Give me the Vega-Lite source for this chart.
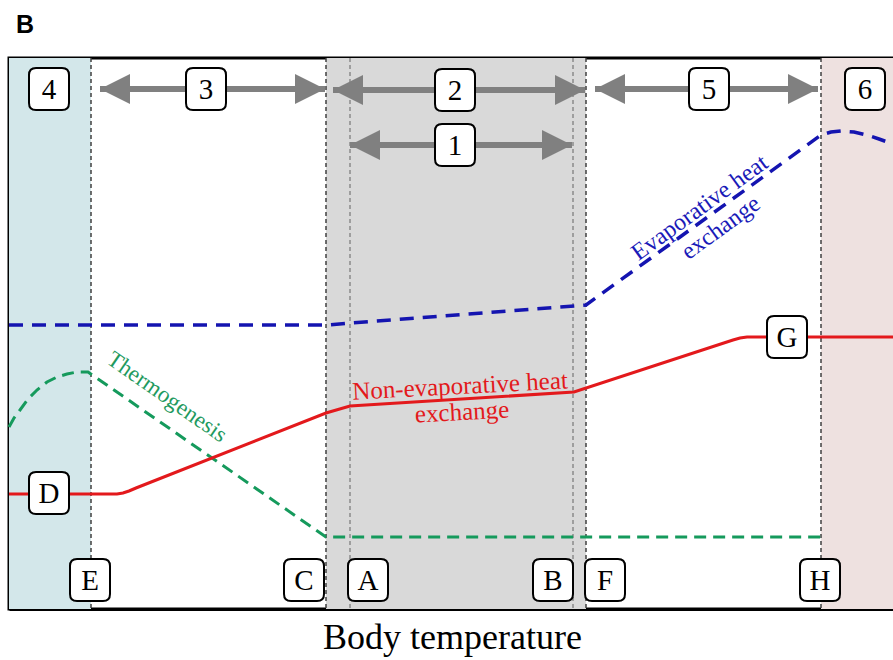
{
  "$schema": "https://vega.github.io/schema/vega-lite/v6.json",
  "width": 886,
  "height": 551,
  "autosize": {"type": "none"},
  "padding": {"left": 9, "top": 58, "right": 0, "bottom": 51},
  "background": "white",
  "title": {"text": "B", "anchor": "start", "frame": "group", "font": "Liberation Sans", "fontWeight": "bold", "fontSize": 25, "color": "black", "dx": 7, "offset": -1, "baseline": "alphabetic"},
  "config": {
    "view": {"stroke": "black", "strokeWidth": 3},
    "font": "Liberation Serif",
    "axisX": {"domain": true, "domainColor": "black", "domainWidth": 3, "ticks": false, "labels": false, "grid": false,
      "titleFont": "Liberation Serif", "titleFontSize": 36, "titleFontWeight": "normal", "titleColor": "black",
      "titleBaseline": "top", "titlePadding": 11}
  },
  "datasets": {
    "zones": [
      {"zone": "cold", "temp": 0, "temp_end": 82},
      {"zone": "neutral", "temp": 317, "temp_end": 577},
      {"zone": "hot", "temp": 812, "temp_end": 886}
    ],
    "markers": [
      {"point": "E", "temp": 82, "kind": "major"},
      {"point": "C", "temp": 317, "kind": "major"},
      {"point": "A", "temp": 341, "kind": "minor"},
      {"point": "B", "temp": 564, "kind": "minor"},
      {"point": "F", "temp": 577, "kind": "major"},
      {"point": "H", "temp": 812, "kind": "major"}
    ],
    "curves": [
      {"series": "Evaporative", "temp": 0, "level": 284},
      {"series": "Evaporative", "temp": 318, "level": 284},
      {"series": "Evaporative", "temp": 341, "level": 286},
      {"series": "Evaporative", "temp": 577, "level": 304},
      {"series": "Evaporative", "temp": 812, "level": 474},
      {"series": "Evaporative", "temp": 822, "level": 477},
      {"series": "Evaporative", "temp": 832, "level": 478},
      {"series": "Evaporative", "temp": 845, "level": 477},
      {"series": "Evaporative", "temp": 858, "level": 474},
      {"series": "Evaporative", "temp": 870, "level": 470},
      {"series": "Evaporative", "temp": 884, "level": 465},
      {"series": "NonEvaporative", "temp": 0, "level": 115},
      {"series": "NonEvaporative", "temp": 108, "level": 115},
      {"series": "NonEvaporative", "temp": 114, "level": 116},
      {"series": "NonEvaporative", "temp": 120, "level": 118},
      {"series": "NonEvaporative", "temp": 127, "level": 121},
      {"series": "NonEvaporative", "temp": 317, "level": 196},
      {"series": "NonEvaporative", "temp": 341, "level": 203},
      {"series": "NonEvaporative", "temp": 565, "level": 217},
      {"series": "NonEvaporative", "temp": 724, "level": 269},
      {"series": "NonEvaporative", "temp": 731, "level": 271},
      {"series": "NonEvaporative", "temp": 738, "level": 272},
      {"series": "NonEvaporative", "temp": 886, "level": 272},
      {"series": "Thermogenesis", "temp": 0, "level": 182},
      {"series": "Thermogenesis", "temp": 5, "level": 191},
      {"series": "Thermogenesis", "temp": 11, "level": 199},
      {"series": "Thermogenesis", "temp": 19, "level": 210},
      {"series": "Thermogenesis", "temp": 28, "level": 219},
      {"series": "Thermogenesis", "temp": 38, "level": 227},
      {"series": "Thermogenesis", "temp": 48, "level": 232},
      {"series": "Thermogenesis", "temp": 58, "level": 235},
      {"series": "Thermogenesis", "temp": 68, "level": 237},
      {"series": "Thermogenesis", "temp": 79, "level": 237},
      {"series": "Thermogenesis", "temp": 317, "level": 72},
      {"series": "Thermogenesis", "temp": 812, "level": 72}
    ],
    "arrows": [
      {"arrow": "3", "from": 91, "to": 316, "level": 520},
      {"arrow": "2", "from": 324, "to": 576, "level": 519},
      {"arrow": "1", "from": 341, "to": 563, "level": 464},
      {"arrow": "5", "from": 586, "to": 809, "level": 520}
    ],
    "boxes": [
      {"label": "4", "temp": 40, "level": 520},
      {"label": "3", "temp": 197, "level": 520},
      {"label": "2", "temp": 446, "level": 519},
      {"label": "1", "temp": 446, "level": 464},
      {"label": "5", "temp": 700, "level": 520},
      {"label": "6", "temp": 856, "level": 520},
      {"label": "D", "temp": 40, "level": 116},
      {"label": "E", "temp": 81, "level": 29},
      {"label": "C", "temp": 295, "level": 29},
      {"label": "A", "temp": 359, "level": 29},
      {"label": "B", "temp": 544, "level": 29},
      {"label": "F", "temp": 596, "level": 29},
      {"label": "H", "temp": 811, "level": 29},
      {"label": "G", "temp": 778, "level": 272}
    ],
    "notes": [
      {"series": "Thermogenesis", "text": "Thermogenesis", "temp": 158, "level": 212},
      {"series": "NonEvaporative", "text": "Non-evaporative  heat", "temp": 451, "level": 223},
      {"series": "NonEvaporative", "text": "exchange", "temp": 453, "level": 197},
      {"series": "Evaporative", "text": "Evaporative heat", "temp": 691, "level": 401},
      {"series": "Evaporative", "text": "exchange", "temp": 712, "level": 381}
    ]
  },
  "layer": [
    {
      "data": {"name": "zones"},
      "mark": {"type": "rect"},
      "encoding": {
        "x": {"field": "temp", "type": "quantitative", "title": "Body temperature", "scale": {"domain": [0, 886], "nice": false, "zero": false}},
        "x2": {"field": "temp_end"},
        "color": {"field": "zone", "type": "nominal", "scale": {"domain": ["cold", "neutral", "hot"], "range": ["#d3e7ea", "#d9d9d9", "#eee1e0"]}, "legend": null}
      }
    },
    {
      "data": {"name": "markers"},
      "transform": [{"filter": "datum.kind === 'minor'"}],
      "mark": {"type": "rule", "color": "#8a8a8a", "strokeWidth": 1.5, "strokeDash": [4, 3]},
      "encoding": {"x": {"field": "temp", "type": "quantitative", "title": "Body temperature", "scale": {"domain": [0, 886], "nice": false, "zero": false}}}
    },
    {
      "data": {"name": "markers"},
      "transform": [{"filter": "datum.kind === 'major'"}],
      "mark": {"type": "rule", "color": "#404040", "strokeWidth": 1.5, "strokeDash": [4, 3]},
      "encoding": {"x": {"field": "temp", "type": "quantitative", "title": "Body temperature", "scale": {"domain": [0, 886], "nice": false, "zero": false}}}
    },
    {
      "data": {"name": "curves"},
      "transform": [{"filter": "datum.series === 'Thermogenesis'"}],
      "mark": {"type": "line", "color": "#159a5c", "strokeWidth": 3, "strokeDash": [12, 7]},
      "encoding": {
        "x": {"field": "temp", "type": "quantitative", "title": "Body temperature", "scale": {"domain": [0, 886], "nice": false, "zero": false}},
        "y": {"field": "level", "type": "quantitative", "scale": {"domain": [0, 551], "nice": false, "zero": false}, "axis": null}
      }
    },
    {
      "data": {"name": "curves"},
      "transform": [{"filter": "datum.series === 'NonEvaporative'"}],
      "mark": {"type": "line", "color": "#e3191c", "strokeWidth": 3},
      "encoding": {
        "x": {"field": "temp", "type": "quantitative", "title": "Body temperature", "scale": {"domain": [0, 886], "nice": false, "zero": false}},
        "y": {"field": "level", "type": "quantitative", "scale": {"domain": [0, 551], "nice": false, "zero": false}, "axis": null}
      }
    },
    {
      "data": {"name": "curves"},
      "transform": [{"filter": "datum.series === 'Evaporative'"}],
      "mark": {"type": "line", "color": "#1414b0", "strokeWidth": 3.5, "strokeDash": [14, 9]},
      "encoding": {
        "x": {"field": "temp", "type": "quantitative", "title": "Body temperature", "scale": {"domain": [0, 886], "nice": false, "zero": false}},
        "y": {"field": "level", "type": "quantitative", "scale": {"domain": [0, 551], "nice": false, "zero": false}, "axis": null}
      }
    },
    {
      "data": {"name": "arrows"},
      "mark": {"type": "rule", "color": "#808080", "strokeWidth": 6},
      "encoding": {
        "x": {"field": "from", "type": "quantitative", "title": "Body temperature", "scale": {"domain": [0, 886], "nice": false, "zero": false}},
        "x2": {"field": "to"},
        "y": {"field": "level", "type": "quantitative", "scale": {"domain": [0, 551], "nice": false, "zero": false}, "axis": null}
      }
    },
    {
      "data": {"name": "arrows"},
      "transform": [{"fold": ["from", "to"], "as": ["end", "tip"]}],
      "mark": {"type": "point", "filled": true, "color": "#808080", "opacity": 1, "size": 900, "strokeWidth": 0},
      "encoding": {
        "x": {"field": "tip", "type": "quantitative", "title": "Body temperature", "scale": {"domain": [0, 886], "nice": false, "zero": false}},
        "y": {"field": "level", "type": "quantitative", "scale": {"domain": [0, 551], "nice": false, "zero": false}, "axis": null},
        "shape": {"field": "end", "type": "nominal", "scale": {"domain": ["from", "to"], "range": ["M0,0 L2,-1 L2,1 Z", "M0,0 L-2,-1 L-2,1 Z"]}, "legend": null}
      }
    },
    {
      "data": {"name": "boxes"},
      "mark": {"type": "point", "shape": "M-0.65,-1.05 L0.65,-1.05 Q1,-1.05 1,-0.7 L1,0.7 Q1,1.05 0.65,1.05 L-0.65,1.05 Q-1,1.05 -1,0.7 L-1,-0.7 Q-1,-1.05 -0.65,-1.05 Z", "size": 1600, "filled": true, "fill": "white", "stroke": "black", "strokeWidth": 2, "opacity": 1},
      "encoding": {
        "x": {"field": "temp", "type": "quantitative", "title": "Body temperature", "scale": {"domain": [0, 886], "nice": false, "zero": false}},
        "y": {"field": "level", "type": "quantitative", "scale": {"domain": [0, 551], "nice": false, "zero": false}, "axis": null}
      }
    },
    {
      "data": {"name": "boxes"},
      "mark": {"type": "text", "font": "Liberation Serif", "fontSize": 29, "color": "black", "baseline": "middle", "align": "center", "dy": 1},
      "encoding": {
        "x": {"field": "temp", "type": "quantitative", "title": "Body temperature", "scale": {"domain": [0, 886], "nice": false, "zero": false}},
        "y": {"field": "level", "type": "quantitative", "scale": {"domain": [0, 551], "nice": false, "zero": false}, "axis": null},
        "text": {"field": "label"}
      }
    },
    {
      "data": {"name": "notes"},
      "transform": [{"filter": "datum.series === 'Thermogenesis'"}],
      "mark": {"type": "text", "font": "Liberation Serif", "fontSize": 23, "color": "#1f9a60", "angle": 35, "baseline": "middle", "align": "center"},
      "encoding": {
        "x": {"field": "temp", "type": "quantitative", "title": "Body temperature", "scale": {"domain": [0, 886], "nice": false, "zero": false}},
        "y": {"field": "level", "type": "quantitative", "scale": {"domain": [0, 551], "nice": false, "zero": false}, "axis": null},
        "text": {"field": "text"}
      }
    },
    {
      "data": {"name": "notes"},
      "transform": [{"filter": "datum.series === 'NonEvaporative'"}],
      "mark": {"type": "text", "font": "Liberation Serif", "fontSize": 25, "color": "#e3191c", "angle": -3, "baseline": "middle", "align": "center"},
      "encoding": {
        "x": {"field": "temp", "type": "quantitative", "title": "Body temperature", "scale": {"domain": [0, 886], "nice": false, "zero": false}},
        "y": {"field": "level", "type": "quantitative", "scale": {"domain": [0, 551], "nice": false, "zero": false}, "axis": null},
        "text": {"field": "text"}
      }
    },
    {
      "data": {"name": "notes"},
      "transform": [{"filter": "datum.series === 'Evaporative'"}],
      "mark": {"type": "text", "font": "Liberation Serif", "fontSize": 24, "color": "#1a1ab8", "angle": -36, "baseline": "middle", "align": "center"},
      "encoding": {
        "x": {"field": "temp", "type": "quantitative", "title": "Body temperature", "scale": {"domain": [0, 886], "nice": false, "zero": false}},
        "y": {"field": "level", "type": "quantitative", "scale": {"domain": [0, 551], "nice": false, "zero": false}, "axis": null},
        "text": {"field": "text"}
      }
    }
  ]
}
